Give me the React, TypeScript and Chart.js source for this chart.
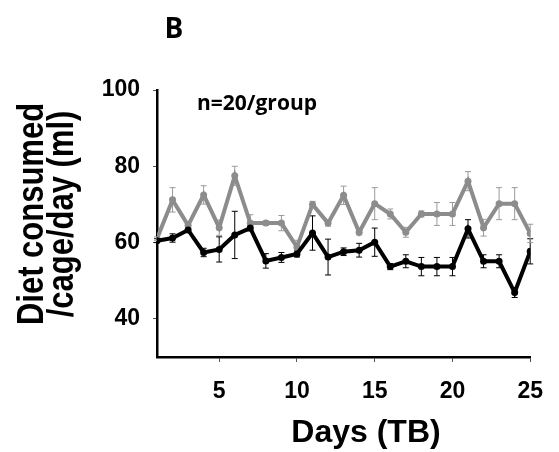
import React, { useEffect, useRef } from 'react';
import { Chart, registerables } from 'chart.js';

Chart.register(...registerables);

const days = [1, 2, 3, 4, 5, 6, 7, 8, 9, 10, 11, 12, 13, 14, 15, 16, 17, 18, 19, 20, 21, 22, 23, 24, 25];
const xTickValues = [5, 10, 15, 20, 25];
const yTickValues = [40, 60, 80, 100];

const blackSeries = [60.5, 61.2, 63.3, 57.4, 58.2, 62.0, 63.8, 55.2, 56.1, 57.0, 62.5, 56.2, 57.6, 58.0, 60.1, 53.7, 55.1, 53.7, 53.7, 53.7, 63.6, 55.1, 55.1, 46.9, 57.7];
const blackErr = [0.5, 1.1, 0.6, 1.1, 3.3, 6.2, 0.6, 1.9, 1.3, 0.8, 4.5, 4.7, 1.0, 1.8, 3.7, 0.8, 1.7, 2.4, 2.4, 2.4, 2.4, 1.7, 1.7, 1.3, 3.3];

const graySeries = [61.0, 71.2, 64.5, 72.5, 63.9, 77.5, 65.1, 65.1, 65.1, 58.8, 70.0, 65.1, 72.4, 62.7, 70.2, 67.5, 62.7, 67.5, 67.5, 67.5, 76.1, 63.9, 70.2, 70.2, 62.4];
const grayErr = [0.5, 3.2, 0.8, 2.4, 2.0, 2.5, 2.2, 0.6, 2.0, 1.8, 0.8, 0.8, 2.4, 0.7, 4.2, 1.3, 1.3, 0.8, 3.0, 3.0, 2.5, 2.2, 4.2, 4.2, 2.4];

const panelLabel = 'B';
const noteText = 'n=20/group';
const yTitleLines = ['Diet consumed', '/cage/day (ml)'];
const xTitle = 'Days (TB)';

const BLACK = '#000000';
const GRAY = '#8c8c8c';

export default function App() {
  const ref = useRef<HTMLCanvasElement>(null);

  useEffect(() => {
    if (!ref.current) return;

    const errorBars = {
      id: 'errorBars',
      beforeDatasetsDraw(chart: any) {
        const { ctx, scales } = chart;
        const x = scales.x;
        const y = scales.y;
        chart.data.datasets.forEach((ds: any) => {
          const errs: number[] = ds.errors || [];
          ctx.save();
          ctx.strokeStyle = ds.errColor;
          ctx.lineWidth = 1;
          ds.data.forEach((p: any, i: number) => {
            const e = errs[i];
            if (!e) return;
            const px = x.getPixelForValue(p.x);
            const top = y.getPixelForValue(p.y + e);
            const bot = y.getPixelForValue(p.y - e);
            ctx.beginPath();
            ctx.moveTo(px, top);
            ctx.lineTo(px, bot);
            ctx.moveTo(px - 3, top);
            ctx.lineTo(px + 3, top);
            ctx.moveTo(px - 3, bot);
            ctx.lineTo(px + 3, bot);
            ctx.stroke();
          });
          ctx.restore();
        });
      },
    };

    const texts = {
      id: 'texts',
      afterDraw(chart: any) {
        const { ctx } = chart;
        ctx.save();
        ctx.fillStyle = '#000';
        // panel label
        ctx.font = "bold 28px 'Open Sans', sans-serif";
        ctx.textAlign = 'center';
        ctx.textBaseline = 'alphabetic';
        ctx.fillText(panelLabel, 174, 38);
        // note
        ctx.font = "bold 21px 'Open Sans', sans-serif";
        ctx.textAlign = 'left';
        ctx.fillText(noteText, 197, 110);
        // x title
        ctx.font = "bold 32px 'Liberation Sans', Arial, sans-serif";
        ctx.textAlign = 'center';
        ctx.fillText(xTitle, 366, 442);
        // y title
        ctx.font = "bold 31px 'Liberation Sans', Arial, sans-serif";
        ctx.translate(0, 214);
        ctx.rotate(-Math.PI / 2);
        ctx.scale(1, 1.22);
        ctx.textAlign = 'center';
        ctx.fillText(yTitleLines[0], 0, 43 / 1.22);
        ctx.fillText(yTitleLines[1], 0, 73 / 1.22);
        ctx.restore();
      },
    };

    const tickFont = { family: "'Liberation Sans', Arial, sans-serif", size: 23, weight: 'bold' as const };

    const chart = new Chart(ref.current, {
      type: 'line',
      data: {
        datasets: [
          {
            label: 'black',
            data: days.map((d, i) => ({ x: d, y: blackSeries[i] })),
            borderColor: BLACK,
            backgroundColor: BLACK,
            pointBackgroundColor: BLACK,
            pointBorderColor: BLACK,
            borderWidth: 4,
            pointRadius: 3.5,
            pointBorderWidth: 0,
            tension: 0,
            errors: blackErr,
            errColor: BLACK,
          } as any,
          {
            label: 'gray',
            data: days.map((d, i) => ({ x: d, y: graySeries[i] })),
            borderColor: GRAY,
            backgroundColor: GRAY,
            pointBackgroundColor: GRAY,
            pointBorderColor: GRAY,
            borderWidth: 4,
            pointRadius: 3.5,
            pointBorderWidth: 0,
            tension: 0,
            errors: grayErr,
            errColor: '#9a9a9a',
          } as any,
        ],
      },
      options: {
        responsive: false,
        animation: false,
        layout: { padding: { top: 90, right: 21, left: 0, bottom: 0 } },
        plugins: { legend: { display: false }, tooltip: { enabled: false } },
        scales: {
          x: {
            type: 'linear',
            min: 1,
            max: 25,
            afterBuildTicks: (s: any) => {
              s.ticks = xTickValues.map((v) => ({ value: v }));
            },
            afterFit: (s: any) => {
              s.height = 95;
            },
            grid: { drawOnChartArea: false, drawTicks: true, tickLength: 5, color: '#555', lineWidth: 1 },
            border: { color: BLACK, width: 2.5 },
            ticks: { font: tickFont, color: '#000', padding: 16, maxRotation: 0 },
          },
          y: {
            type: 'linear',
            min: 30,
            max: 100,
            afterBuildTicks: (s: any) => {
              s.ticks = yTickValues.map((v) => ({ value: v }));
            },
            afterFit: (s: any) => {
              s.width = 157;
            },
            grid: { drawOnChartArea: false, drawTicks: true, tickLength: 4, color: '#555', lineWidth: 1 },
            border: { color: BLACK, width: 2.5 },
            ticks: { font: tickFont, color: '#000', padding: 13 },
          },
        },
      },
      plugins: [errorBars, texts],
    });

    return () => chart.destroy();
  }, []);

  return (
    <div style={{ position: 'fixed', left: 0, top: 0, width: 559, height: 452, background: '#fff' }}>
      <canvas ref={ref} width={559} height={452} style={{ display: 'block' }} />
    </div>
  );
}
